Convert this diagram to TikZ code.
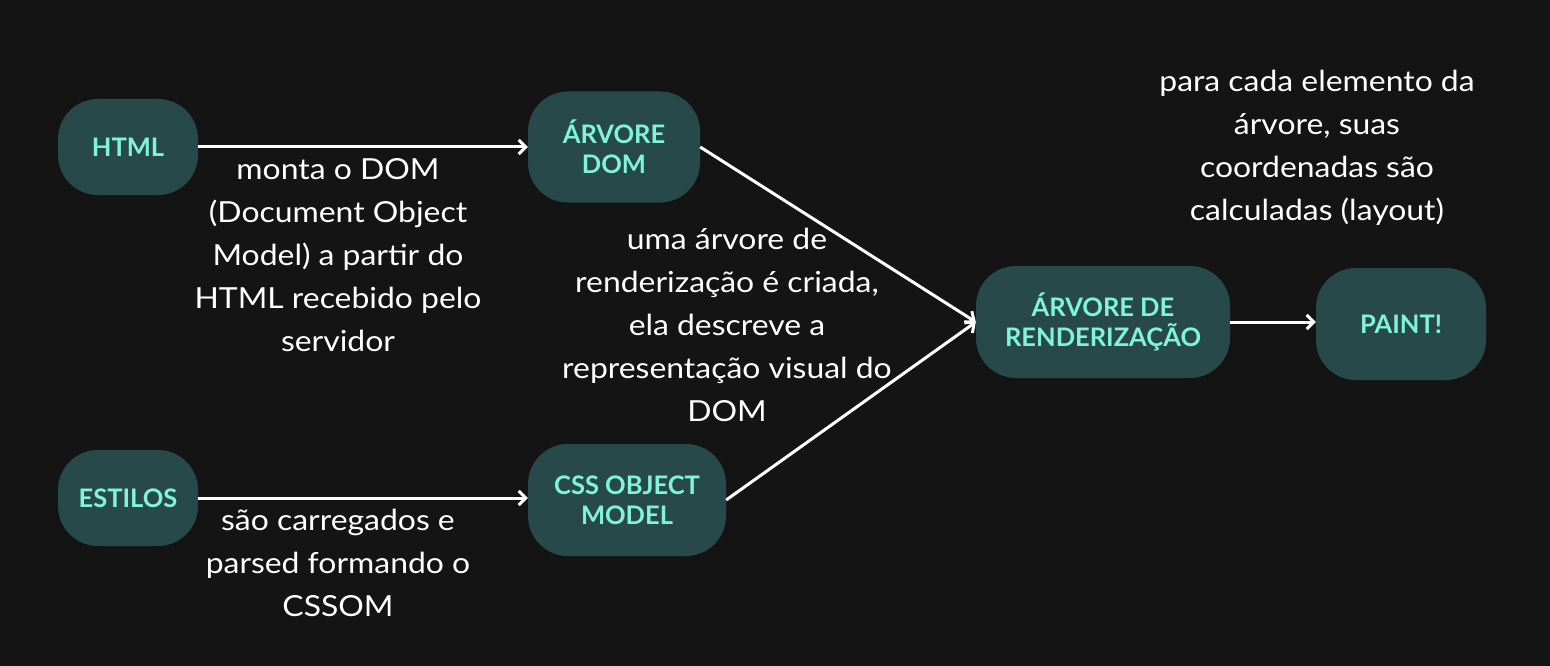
\documentclass[tikz,border=0pt]{standalone}
\usepackage{fontspec}
\setmainfont{Lato}
\newfontfamily\descfont[FakeStretch=1.1]{Lato}
\usetikzlibrary{arrows.meta}
\definecolor{bgc}{HTML}{141414}
\definecolor{boxc}{HTML}{28494A}
\definecolor{mint}{HTML}{80F4D8}
\tikzset{
  box/.style={fill=boxc, rounded corners=40pt, text=mint, font=\fontsize{25.5}{30}\selectfont\bfseries, align=center, inner sep=0pt},
  desc/.style={text=white, font=\descfont\fontsize{29}{43}\selectfont, align=center, inner sep=0pt},
  conn/.style={draw=white, line width=3pt, -{Straight Barb[length=7pt,width=14pt,line width=3pt]}}
}
\begin{document}
\begin{tikzpicture}[x=1pt,y=-1pt]
\fill[bgc] (0,0) rectangle (1550,666);
\useasboundingbox (0,0) rectangle (1550,666);
\node[box, minimum width=140pt, minimum height=96pt] (html) at (128,147) {HTML};
\node[box, minimum width=172pt, minimum height=111pt] (dom) at (614,147) {ÁRVORE\\DOM};
\node[box, minimum width=140pt, minimum height=96pt] (est) at (128,498) {ESTILOS};
\node[box, minimum width=198pt, minimum height=112pt] (css) at (627,500) {CSS OBJECT\\MODEL};
\node[box, minimum width=254pt, minimum height=112pt] (rend) at (1103,322) {ÁRVORE DE\\RENDERIZAÇÃO};
\node[box, minimum width=170pt, minimum height=112pt] (paint) at (1401,324) {PAINT!};
\draw[conn] (html.east) -- (dom.west |- html.east);
\draw[conn] (est.east) -- (css.west |- est.east);
\draw[conn] (dom.east) -- (rend.west);
\draw[conn] (css.east) -- (rend.west);
\draw[conn] (rend.east) -- (paint.west |- rend.east);
\node[desc] (t1) at (338,255) {monta o DOM\\(Document Object\\Model) a partir do\\HTML recebido pelo\\servidor};
\node[desc] (t2) at (727,325) {uma árvore de\\renderização é criada,\\ela descreve a\\representação visual do\\DOM};
\node[desc] (t3) at (338,563) {são carregados e\\parsed formando o\\CSSOM};
\node[desc] (t4) at (1317,148) {para cada elemento da\\árvore, suas\\coordenadas são\\calculadas (layout)};
\end{tikzpicture}
\end{document}
